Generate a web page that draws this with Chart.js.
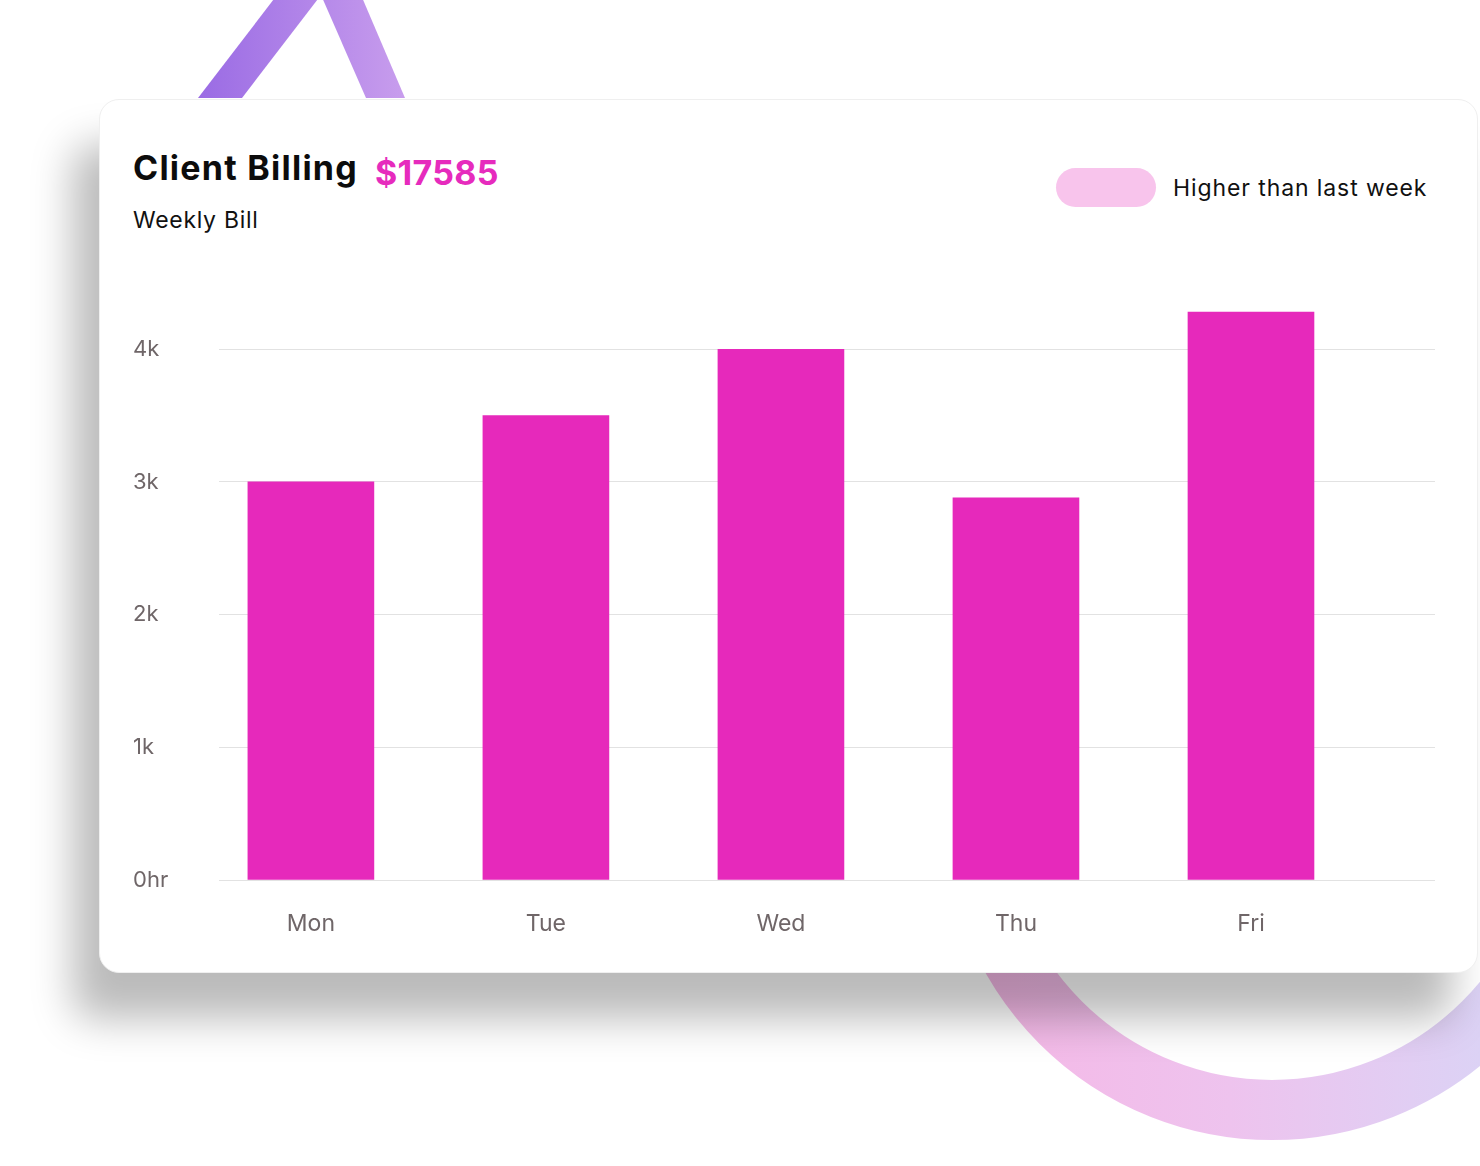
<!DOCTYPE html>
<html>
<head>
<meta charset="utf-8">
<script src="https://cdn.jsdelivr.net/npm/chart.js@4/dist/chart.umd.min.js"></script>
<style>
  html, body { margin: 0; padding: 0; }
  body { width: 1480px; height: 1166px; position: relative; overflow: hidden; background: #fff; font-family: Inter, "Open Sans", sans-serif; }
  #deco { position: absolute; left: 0; top: 0; z-index: 0; }
  .card {
    position: absolute; left: 99px; top: 99px; width: 1379px; height: 874px;
    background: #fff; border: 1px solid #efefef; border-radius: 20px; box-sizing: border-box;
    box-shadow: -26px 46px 42px rgba(0,0,0,0.27); z-index: 1;
  }
  .title { position: absolute; left: 133px; top: 147px; font-size: 34px; font-weight: 700; color: #0c0c0c; z-index: 2; letter-spacing: 1.25px; }
  .amount { position: absolute; left: 375px; top: 152px; font-size: 34px; font-weight: 700; color: #e62bbd; z-index: 2; letter-spacing: 0.3px; }
  .sub { position: absolute; left: 133px; top: 206px; font-size: 23px; color: #111; z-index: 2; letter-spacing: 0.7px; }
  .pill { position: absolute; left: 1056px; top: 168px; width: 100px; height: 39px; border-radius: 20px; background: #f8c4ec; z-index: 2; }
  .legend { position: absolute; left: 1173px; top: 174px; font-size: 23px; color: #111; z-index: 2; letter-spacing: 0.9px; }
  #wrap { position: absolute; left: 133px; top: 280px; width: 1320px; height: 680px; z-index: 2; }
</style>
</head>
<body>
<svg id="deco" width="1480" height="1166">
  <defs>
    <linearGradient id="tri" gradientUnits="userSpaceOnUse" x1="198" y1="0" x2="405" y2="0">
      <stop offset="0" stop-color="#9a6be4"/>
      <stop offset="1" stop-color="#c89ded"/>
    </linearGradient>
    <linearGradient id="ring" gradientUnits="userSpaceOnUse" x1="980" y1="0" x2="1480" y2="0">
      <stop offset="0" stop-color="#f5b8e6"/>
      <stop offset="0.5" stop-color="#eec3ee"/>
      <stop offset="1" stop-color="#dcd2f5"/>
    </linearGradient>
    <clipPath id="below"><rect x="0" y="960" width="1480" height="206"/></clipPath>
  </defs>
  <polygon points="198,98 242,98 321,-5 277,-5" fill="url(#tri)"/>
  <polygon points="321,-5 361,-5 405,98 366,98" fill="url(#tri)"/>
  <circle cx="1272" cy="811" r="299" fill="none" stroke="url(#ring)" stroke-width="60" clip-path="url(#below)"/>
</svg>
<div class="card"></div>
<div class="title">Client Billing</div>
<div class="amount">$17585</div>
<div class="sub">Weekly Bill</div>
<div class="pill"></div>
<div class="legend">Higher than last week</div>
<div id="wrap"><canvas id="billChart"></canvas></div>
<script>
const days = ['Mon', 'Tue', 'Wed', 'Thu', 'Fri'];
const billing = [3000, 3500, 4000, 2880, 4280];
const yTicks = [0, 1000, 2000, 3000, 4000];
const yTickLabels = ['0hr', '1k', '2k', '3k', '4k'];

const billCtx = document.getElementById('billChart');

new Chart(billCtx, {
  type: 'bar',
  data: {
    datasets: [{
      label: 'Weekly Bill',
      data: billing.map((v, i) => ({ x: i, y: v })),
      backgroundColor: '#e629bb',
      barThickness: 126
    }]
  },
  options: {
    responsive: true,
    maintainAspectRatio: false,
    animation: false,
    layout: { padding: { left: 0, right: 18, top: 12, bottom: 0 } },
    plugins: { legend: { display: false }, tooltip: { enabled: false } },
    scales: {
      x: {
        type: 'linear',
        offset: false,
        min: -0.391,
        max: 4.783,
        grid: { display: false, drawTicks: false },
        border: { display: false },
        afterBuildTicks: (scale) => { scale.ticks = days.map((d, i) => ({ value: i })); },
        afterFit: (scale) => { scale.height = 80; },
        ticks: {
          padding: 30,
          color: '#6f6668',
          font: { family: 'Inter', size: 23 },
          callback: (value) => days[value]
        }
      },
      y: {
        min: 0,
        max: 4400,
        grid: { color: '#e2e2e2', drawTicks: false },
        border: { display: false },
        afterBuildTicks: (scale) => { scale.ticks = yTicks.map(v => ({ value: v })); },
        afterFit: (scale) => { scale.width = 86; },
        ticks: {
          crossAlign: 'far',
          color: '#6f6668',
          font: { family: 'Inter', size: 22 },
          callback: (value) => yTickLabels[yTicks.indexOf(value)]
        }
      }
    }
  }
});
</script>
</body>
</html>
